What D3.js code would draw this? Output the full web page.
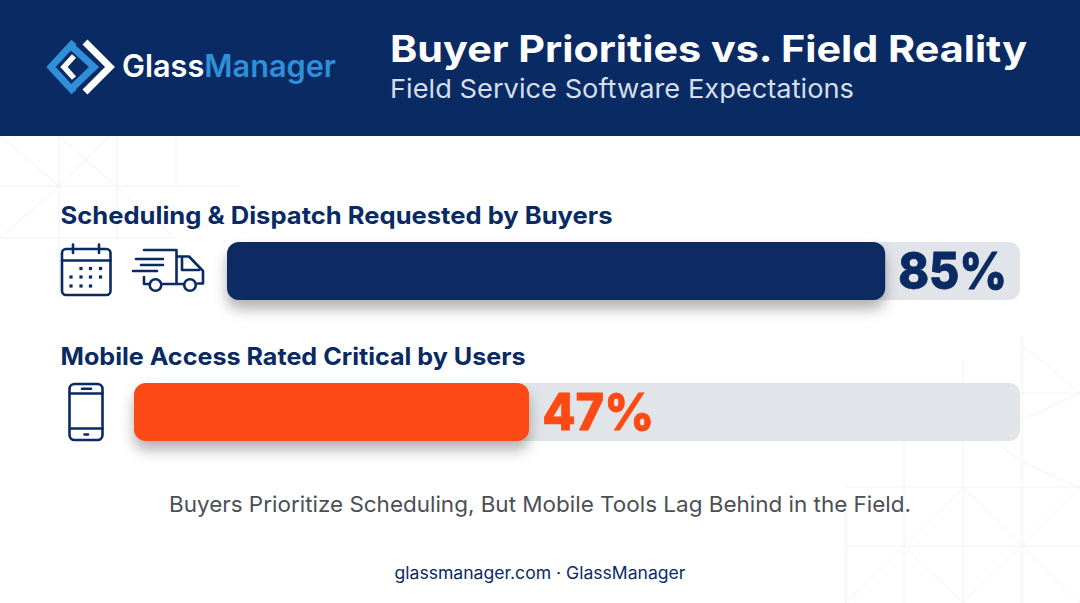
<!DOCTYPE html>
<html>
<head>
<meta charset="utf-8">
<script src="https://cdn.jsdelivr.net/npm/d3@7"></script>
<style>
html,body{margin:0;padding:0;background:#fff;overflow:hidden}
svg{display:block}
text{font-family:Inter,"Open Sans",sans-serif}
</style>
</head>
<body>
<script>
// chart values
var categories = ["Scheduling & Dispatch Requested by Buyers","Mobile Access Rated Critical by Users"];
var values = [85,47];
var valueLabels = ["85%","47%"];
// how far each fill reaches along its own grey track, in % (not quite the label)
var fillShare = [83,44.6];
var barColors = ["#0a2a63","#fd4a14"];
var labelColors = ["#0a2a63","#fd4a14"];

var width = 1080, height = 603;
var navy = "#0a2a63", blue = "#2f8fd8";

var svg = d3.select("body").append("svg")
    .attr("width",width)
    .attr("height",height);

var defs = svg.append("defs");
var shadow = defs.append("filter").attr("id","shadow")
    .attr("x","-10%").attr("y","-30%").attr("width","120%").attr("height","180%");
shadow.append("feDropShadow")
    .attr("dx",0).attr("dy",9).attr("stdDeviation",7)
    .attr("flood-color","#000").attr("flood-opacity",.3);

// faint grid behind the chart, top left and bottom right corners
var bgLines = [
    [59,136,59,300],[117,136,117,240],[176,136,176,186],[0,186,240,186],[0,238,175,238],
    [0,136,59,186],[59,186,110,136],[59,186,0,238],[59,136,175,238],
    [846,500,846,603],[904,440,904,603],[963,360,963,603],[1022,335,1022,603],
    [1022,393,1080,393],[846,487,1080,487],[846,546,1080,546],
    [963,487,1080,603],[963,487,846,603],[904,546,963,603],[1021,546,1080,487],[1021,546,963,603],
    [1022,345,1080,393],[1022,420,1080,393],[993,440,1022,462],[1022,462,1078,487]];
svg.append("g").selectAll("line").data(bgLines).join("line")
    .attr("x1",function(d){return d[0]})
    .attr("y1",function(d){return d[1]})
    .attr("x2",function(d){return d[2]})
    .attr("y2",function(d){return d[3]})
    .attr("stroke","#f0f2f4")
    .attr("stroke-width",1);

// header
svg.append("rect").attr("width",width).attr("height",136).attr("fill",navy);

// logo: four chevrons
var logo = svg.append("g").attr("fill","none");
logo.append("path").attr("d","M74 42 L51 67 L74 92").attr("stroke",blue).attr("stroke-width",7);
logo.append("path").attr("d","M70 45 L94 67 L70 90").attr("stroke",blue).attr("stroke-width",7);
logo.append("path").attr("d","M85 42 L110 67 L85 92").attr("stroke","#fff").attr("stroke-width",7);
logo.append("path").attr("d","M74 56 L64 67 L74 78").attr("stroke","#fff").attr("stroke-width",5.5);

var logoText = svg.append("text").attr("x",122).attr("y",77)
    .attr("font-size",31).attr("font-weight",600)
    .attr("textLength",214).attr("lengthAdjust","spacingAndGlyphs");
logoText.append("tspan").attr("fill","#fff").text("Glass");
logoText.append("tspan").attr("fill",blue).text("Manager");

svg.append("text").attr("x",390).attr("y",62)
    .attr("font-size",37).attr("font-weight",700).attr("fill","#fff")
    .attr("textLength",637).attr("lengthAdjust","spacingAndGlyphs")
    .text("Buyer Priorities vs. Field Reality");
svg.append("text").attr("x",390).attr("y",98)
    .attr("font-size",26).attr("font-weight",400).attr("fill","#d5deea")
    .attr("textLength",464).attr("lengthAdjust","spacingAndGlyphs")
    .text("Field Service Software Expectations");

// bars
var trackLeft = [227,134], trackRight = 1020, barTop = [242,383], barH = 58;
var labelW = [552,465];

categories.forEach(function(c,i){
    var x = d3.scaleLinear().domain([0,100]).range([trackLeft[i],trackRight]);

    svg.append("text").attr("x",60.5).attr("y",barTop[i]-18)
        .attr("font-size",24).attr("font-weight",700).attr("fill",navy)
        .attr("textLength",labelW[i]).attr("lengthAdjust","spacingAndGlyphs")
        .text(c);

    svg.append("rect")
        .attr("x",x(0)).attr("y",barTop[i])
        .attr("width",x(100)-x(0)).attr("height",barH)
        .attr("rx",11)
        .attr("fill","#e1e4e8");

    svg.append("rect")
        .attr("x",x(0)).attr("y",barTop[i])
        .attr("width",x(fillShare[i])-x(0)).attr("height",barH)
        .attr("rx",12)
        .attr("fill",barColors[i])
        .attr("filter","url(#shadow)");

    svg.append("text")
        .attr("x",x(fillShare[i])+13).attr("y",barTop[i]+47)
        .attr("font-size",51).attr("font-weight",800).attr("fill",labelColors[i])
        .attr("stroke",labelColors[i]).attr("stroke-width",.8)
        .attr("textLength",i==0 ? 109 : 112).attr("lengthAdjust","spacingAndGlyphs")
        .text(valueLabels[i]);
});

// icons
var icon = svg.append("g").attr("fill","none").attr("stroke",navy)
    .attr("stroke-width",2.6).attr("stroke-linecap","round").attr("stroke-linejoin","round");

// calendar
icon.append("rect").attr("x",62).attr("y",249).attr("width",48.5).attr("height",46).attr("rx",4);
icon.append("path").attr("d","M62 260.5H110.5M73 244.5V253M99 244.5V253");
var dots = [[81,268.5],[90.5,268.5],[100.5,268.5],[71,277],[81,277],[90.5,277],[100.5,277],[71,286],[81,286],[90.5,286]];
svg.append("g").selectAll("rect").data(dots).join("rect")
    .attr("x",function(d){return d[0]-1.6})
    .attr("y",function(d){return d[1]-1.6})
    .attr("width",3.2).attr("height",3.2)
    .attr("fill",navy);

// truck
icon.append("path").attr("d","M144 250H176.5V284H163M176.5 256.5H189L203 271V283.5H197.5M176.5 284H183M144 277V284H150");
icon.append("path").attr("d","M182 258V270H199");
icon.append("path").attr("d","M136 259H163M141 265H163M133 271H157");
icon.append("circle").attr("cx",155.5).attr("cy",285).attr("r",5.8);
icon.append("circle").attr("cx",190).attr("cy",285).attr("r",5.8);

// phone
icon.append("rect").attr("x",69.5).attr("y",384).attr("width",33).attr("height",56).attr("rx",5);
icon.append("path").attr("d","M70 393.5H102.5M70 428.5H102.5M82 388.7H91M84.5 434.5H88");

// footer texts
svg.append("text").attr("x",540).attr("y",512).attr("text-anchor","middle")
    .attr("font-size",22).attr("fill","#4c4f55")
    .attr("textLength",742).attr("lengthAdjust","spacingAndGlyphs")
    .text("Buyers Prioritize Scheduling, But Mobile Tools Lag Behind in the Field.");
svg.append("text").attr("x",540).attr("y",579).attr("text-anchor","middle")
    .attr("font-size",17).attr("fill",navy)
    .attr("textLength",291).attr("lengthAdjust","spacingAndGlyphs")
    .text("glassmanager.com · GlassManager");
</script>
</body>
</html>
